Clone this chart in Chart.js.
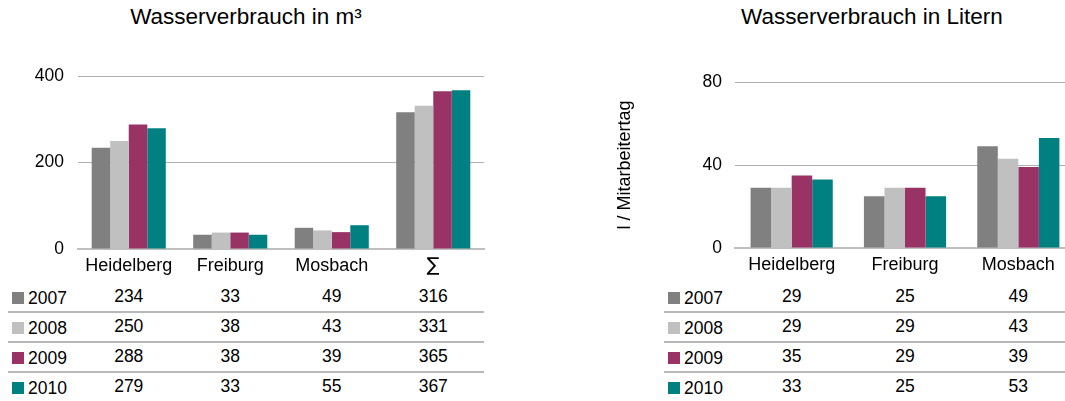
<!DOCTYPE html>
<html>
<head>
<meta charset="utf-8">
<script src="https://cdn.jsdelivr.net/npm/chart.js@4/dist/chart.umd.min.js"></script>
<style>
    html, body { margin: 0; padding: 0; background: #fff; }
    body { width: 1065px; height: 401px; overflow: hidden; position: relative; font-family: "Liberation Sans", Arial, sans-serif; color: #000; }
    .box { position: absolute; }
    .title { position: absolute; top: 6px; font-size: 22.5px; line-height: 1; white-space: nowrap; transform: translateX(-50%); }
    .cell { position: absolute; font-size: 17.5px; line-height: 20px; white-space: nowrap; }
    .sep { position: absolute; height: 2px; background: #b8b8b8; }
    .swatch { position: absolute; width: 12px; height: 12px; }
</style>
</head>
<body>
<div class="title" style="left:246px;">Wasserverbrauch in m³</div>
<div class="title" style="left:872px;">Wasserverbrauch in Litern</div>
<div class="box" style="left:0;top:0;"><canvas id="m3Chart" width="500" height="280"></canvas></div>
<div class="box" style="left:600px;top:0;"><canvas id="literChart" width="480" height="280"></canvas></div>
<div id="tables"></div>
<script>
var years = ['2007', '2008', '2009', '2010'];
var colors = ['#808080', '#c0c0c0', '#993366', '#008080'];

// Wasserverbrauch in m³
var m3Categories = ['Heidelberg', 'Freiburg', 'Mosbach', '∑'];
var m3_2007 = [234, 33, 49, 316];
var m3_2008 = [250, 38, 43, 331];
var m3_2009 = [288, 38, 39, 365];
var m3_2010 = [279, 33, 55, 367];
var m3Ticks = [0, 200, 400];

// Wasserverbrauch in Litern (l / Mitarbeitertag)
var literCategories = ['Heidelberg', 'Freiburg', 'Mosbach'];
var liter_2007 = [29, 25, 49];
var liter_2008 = [29, 29, 43];
var liter_2009 = [35, 29, 39];
var liter_2010 = [33, 25, 53];
var literTicks = [0, 40, 80];

var FONT = '"Liberation Sans", Arial, sans-serif';

function makeDatasets(series) {
    return series.map(function (values, i) {
        return {
            label: years[i],
            data: values,
            backgroundColor: colors[i],
            borderWidth: 0
        };
    });
}

function makeChart(canvasId, cfg) {
    var ctx = document.getElementById(canvasId).getContext('2d');
    return new Chart(ctx, {
        type: 'bar',
        data: {
            labels: cfg.labels,
            datasets: makeDatasets(cfg.series)
        },
        options: {
            responsive: false,
            animation: false,
            events: [],
            layout: { padding: cfg.padding },
            datasets: {
                bar: { categoryPercentage: cfg.groupWidth, barPercentage: 1 }
            },
            scales: {
                x: {
                    grid: { display: false, drawTicks: false },
                    border: { display: true, color: '#bfbfbf', width: 2 },
                    ticks: {
                        color: '#000',
                        padding: 6,
                        maxRotation: 0,
                        font: function (c) {
                            // the sum sign is a taller glyph in the original
                            if (c.tick && c.tick.label === '∑') {
                                return { family: '"DejaVu Sans", sans-serif', size: 19 };
                            }
                            return { family: FONT, size: 18 };
                        }
                    },
                    afterFit: function (scale) { scale.height = cfg.xHeight; }
                },
                y: {
                    min: 0,
                    max: cfg.ticks[cfg.ticks.length - 1],
                    afterBuildTicks: function (scale) {
                        scale.ticks = cfg.ticks.map(function (v) { return { value: v }; });
                    },
                    grid: {
                        drawTicks: false,
                        lineWidth: 1,
                        color: function (c) { return c.tick && c.tick.value === 0 ? 'rgba(0,0,0,0)' : '#b0b0b0'; }
                    },
                    border: { display: false },
                    ticks: { color: '#000', padding: cfg.tickPad, font: { family: FONT, size: 17.5 } },
                    title: cfg.yTitle ? {
                        display: true,
                        text: cfg.yTitle,
                        color: '#000',
                        padding: { top: 4, bottom: 4 },
                        font: { family: FONT, size: 18 }
                    } : { display: false },
                    afterFit: function (scale) { scale.width = cfg.yWidth; }
                }
            },
            plugins: {
                legend: { display: false },
                tooltip: { enabled: false }
            }
        }
    });
}

var m3Chart = makeChart('m3Chart', {
    labels: m3Categories,
    series: [m3_2007, m3_2008, m3_2009, m3_2010],
    ticks: m3Ticks,
    padding: { top: 76, right: 16, left: 0, bottom: 0 },
    groupWidth: 0.73,
    yWidth: 78,
    xHeight: 31,
    tickPad: 14
});

var literChart = makeChart('literChart', {
    labels: literCategories,
    series: [liter_2007, liter_2008, liter_2009, liter_2010],
    ticks: literTicks,
    yTitle: 'l / Mitarbeitertag',
    padding: { top: 82, right: 5, left: 10, bottom: 0 },
    groupWidth: 0.725,
    yWidth: 125,
    xHeight: 32,
    tickPad: 13
});

// data tables below the charts
function buildTable(chart, offsetX, series, left, right) {
    var host = document.getElementById('tables');
    var xScale = chart.scales.x;
    years.forEach(function (year, r) {
        var baseline = 304 + r * 30.1;
        var sw = document.createElement('div');
        sw.className = 'swatch';
        sw.style.left = (left + 4) + 'px';
        sw.style.top = (baseline - 12) + 'px';
        sw.style.background = colors[r];
        host.appendChild(sw);

        var yr = document.createElement('div');
        yr.className = 'cell';
        yr.style.left = (left + 20) + 'px';
        yr.style.top = (baseline - 16) + 'px';
        yr.textContent = year;
        host.appendChild(yr);

        series[r].forEach(function (v, c) {
            var cell = document.createElement('div');
            cell.className = 'cell';
            cell.style.left = (offsetX + xScale.getPixelForValue(c)) + 'px';
            cell.style.top = (baseline - 18.5) + 'px';
            cell.style.transform = 'translateX(-50%)';
            cell.textContent = v;
            host.appendChild(cell);
        });

        if (r < years.length - 1) {
            var line = document.createElement('div');
            line.className = 'sep';
            line.style.left = left + 'px';
            line.style.width = (right - left) + 'px';
            line.style.top = (baseline + 6.5) + 'px';
            host.appendChild(line);
        }
    });
}

buildTable(m3Chart, 0, [m3_2007, m3_2008, m3_2009, m3_2010], 8, 484);
buildTable(literChart, 600, [liter_2007, liter_2008, liter_2009, liter_2010], 664, 1065);
</script>
</body>
</html>
